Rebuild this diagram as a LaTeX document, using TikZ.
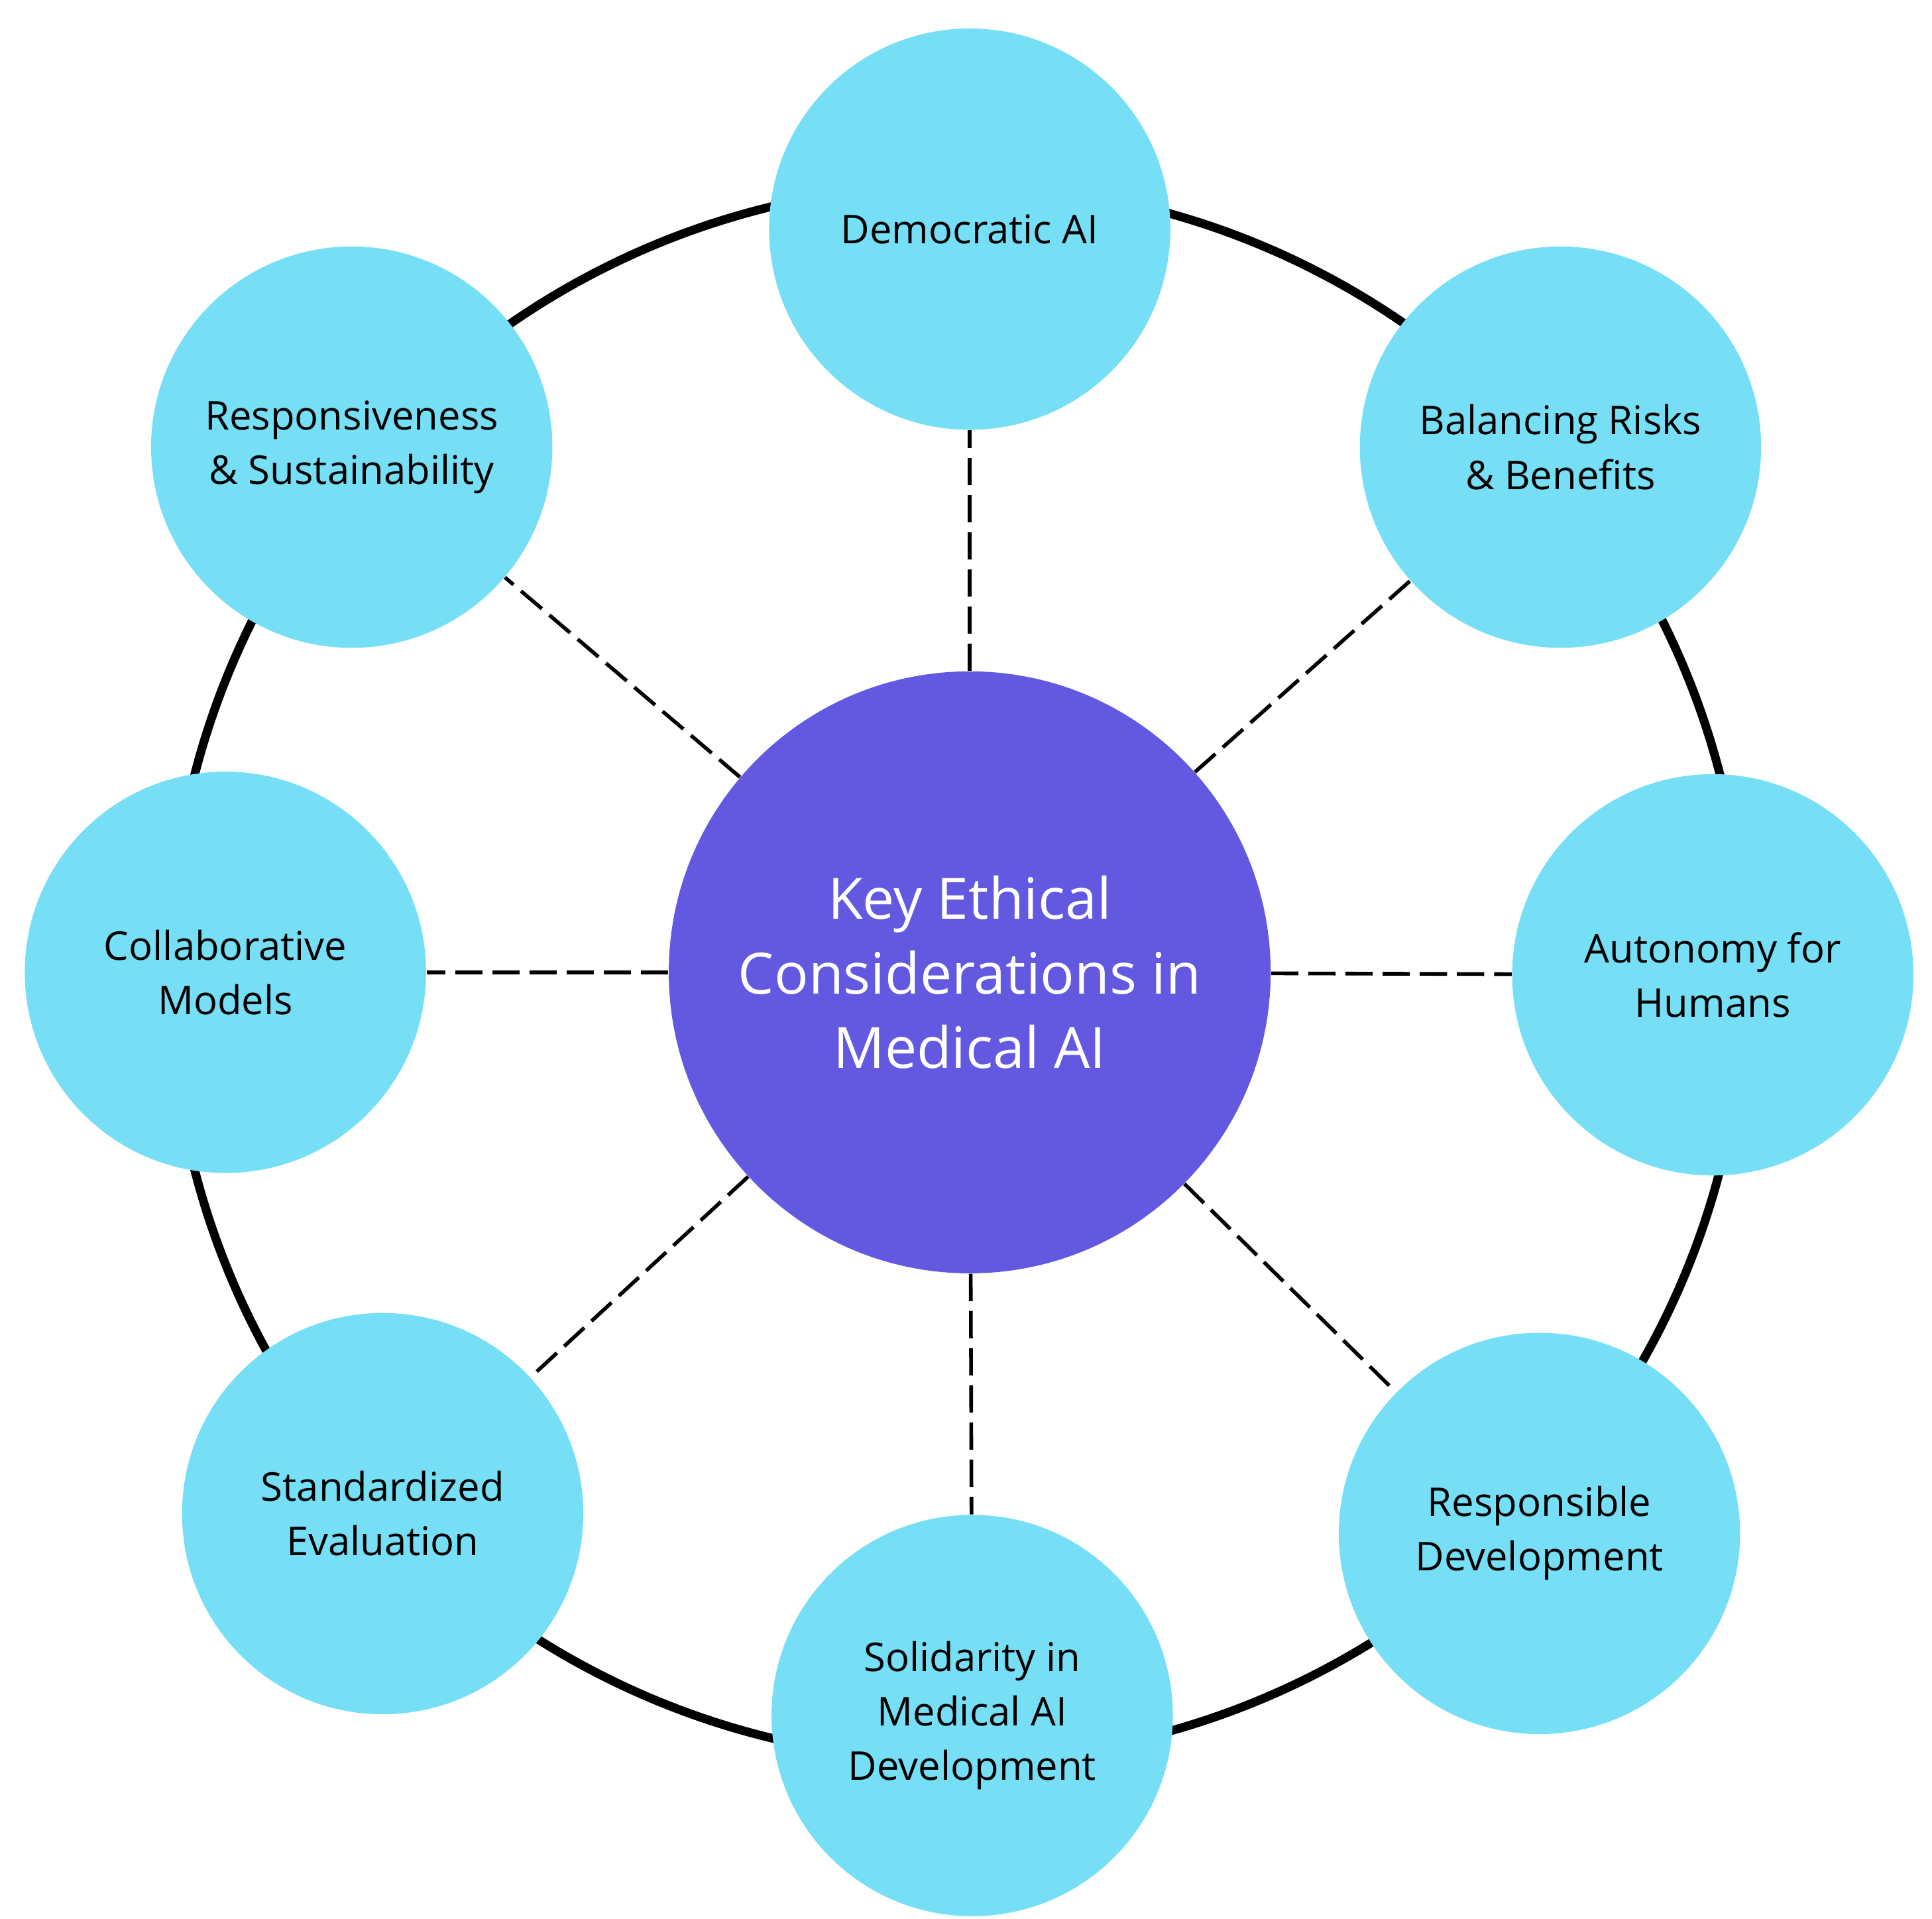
\documentclass[tikz,border=0pt]{standalone}
\usepackage{fontspec}
\setmainfont{Open Sans}
\begin{document}
\begin{tikzpicture}[x=0.5pt,y=-0.5pt,
  sat/.style={circle,fill=cyanc,minimum size=162pt,inner sep=0pt,align=center,font=\fontsize{16}{22}\selectfont,text=black},
  hub/.style={circle,fill=purc,minimum size=243pt,inner sep=0pt,align=center,font=\fontsize{23}{30}\selectfont,text=white},
  link/.style={line width=1.5pt,dash pattern=on 11pt off 4pt,black}]
\definecolor{cyanc}{HTML}{76DFF6}
\definecolor{purc}{HTML}{6359E0}
\useasboundingbox (0,0) rectangle (1560,1549);
\draw[line width=3.5pt] (773,785) circle[radius=636];
\node[hub] (c) at (783,785) {Key Ethical\\Considerations in\\Medical AI};
\node[sat] (n1) at (783,185) {Democratic AI};
\node[sat] (n2) at (1260,361) {Balancing Risks\\\& Benefits};
\node[sat] (n3) at (1383,787) {Autonomy for\\Humans};
\node[sat] (n4) at (1243,1238) {Responsible\\Development};
\node[sat] (n5) at (785,1385) {Solidarity in\\Medical AI\\Development};
\node[sat] (n6) at (309,1222) {Standardized\\Evaluation};
\node[sat] (n7) at (182,785) {Collaborative\\Models};
\node[sat] (n8) at (284,361) {Responsiveness\\\& Sustainability};
\foreach \i in {1,...,8} \draw[link] (c) -- (n\i);
\end{tikzpicture}
\end{document}
